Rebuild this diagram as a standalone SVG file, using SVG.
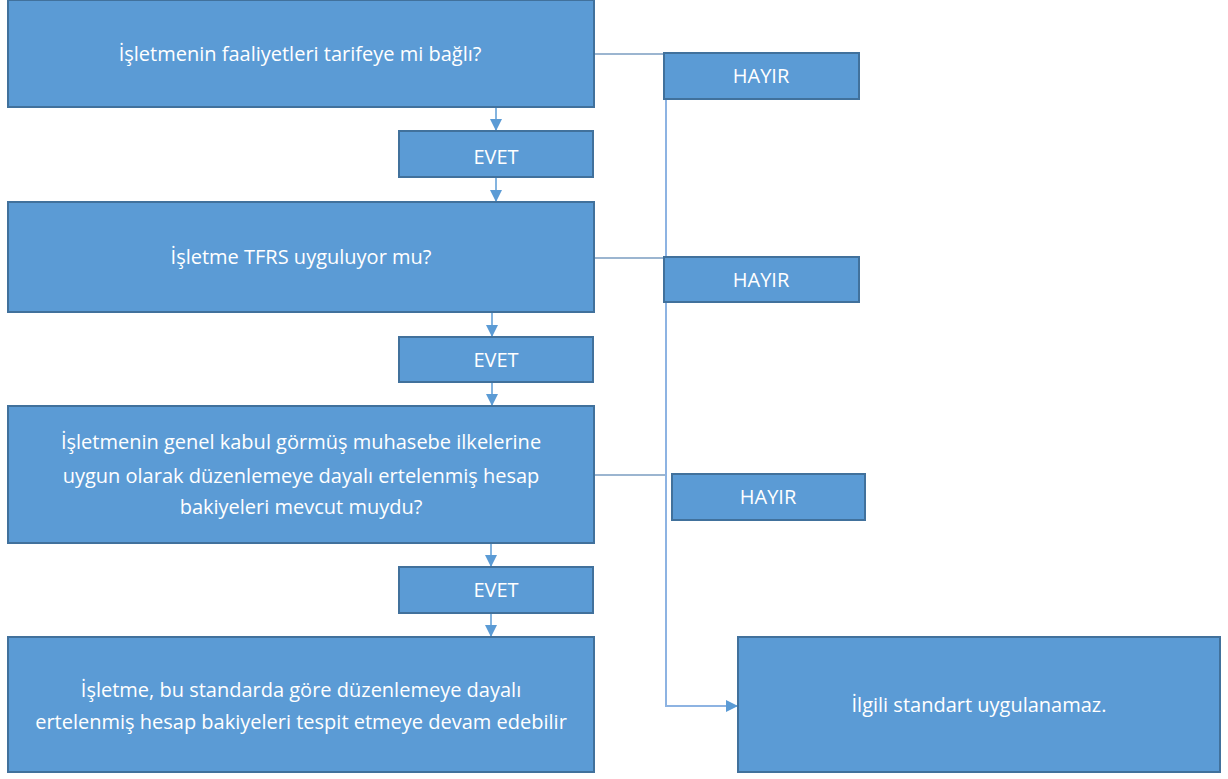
<svg xmlns="http://www.w3.org/2000/svg" width="1228" height="779" viewBox="0 0 1228 779">
<style>
.box{fill:#5b9bd5;stroke:#41719c;stroke-width:2}
.t{fill:#fff;font-family:"Open Sans","Liberation Sans",Arial,sans-serif;font-size:20px;text-anchor:middle}
.c{fill:none;stroke:#5b9bd5;stroke-width:1.5}
.h{fill:none;stroke:#7a9cc0;stroke-width:1.5}
.v{fill:none;stroke:#8db3e2;stroke-width:2}
</style>
<defs>
<marker id="ah" markerWidth="12" markerHeight="12" refX="11" refY="6" orient="auto" markerUnits="userSpaceOnUse">
<path d="M0,0 L12,6 L0,12 Z" fill="#5b9bd5"/>
</marker>
</defs>
<rect width="1228" height="779" fill="#fff"/>
<g id="connectors">
<path class="c" d="M496,107 V130" marker-end="url(#ah)"/>
<path class="c" d="M496,177 V201" marker-end="url(#ah)"/>
<path class="c" d="M492,312 V336" marker-end="url(#ah)"/>
<path class="c" d="M492,382 V405" marker-end="url(#ah)"/>
<path class="c" d="M491,543 V566" marker-end="url(#ah)"/>
<path class="c" d="M491,613 V636" marker-end="url(#ah)"/>
<path class="h" d="M594,54 H664"/>
<path class="h" d="M594,258 H664"/>
<path class="h" d="M594,475 H666"/>
<path class="v" d="M666,99 V257"/>
<path class="v" d="M666,302 V706 H737" marker-end="url(#ah)"/>
</g>
<g id="n1"><rect class="box" x="8" y="0" width="586" height="107"/><text class="t" x="300" y="61">İşletmenin faaliyetleri tarifeye mi bağlı?</text></g>
<g id="e1"><rect class="box" x="399" y="131" width="194" height="46"/><text class="t" x="496" y="164">EVET</text></g>
<g id="n2"><rect class="box" x="8" y="202" width="586" height="110"/><text class="t" x="301" y="264">İşletme TFRS uyguluyor mu?</text></g>
<g id="e2"><rect class="box" x="399" y="337" width="194" height="45"/><text class="t" x="496" y="367">EVET</text></g>
<g id="n3"><rect class="box" x="8" y="406" width="586" height="137"/>
<text class="t" x="301" y="449">İşletmenin genel kabul görmüş muhasebe ilkelerine</text>
<text class="t" x="301" y="483">uygun olarak düzenlemeye dayalı ertelenmiş hesap</text>
<text class="t" x="301" y="514">bakiyeleri mevcut muydu?</text></g>
<g id="e3"><rect class="box" x="399" y="567" width="194" height="46"/><text class="t" x="496" y="597">EVET</text></g>
<g id="n4"><rect class="box" x="8" y="637" width="586" height="135"/>
<text class="t" x="301" y="697">İşletme, bu standarda göre düzenlemeye dayalı</text>
<text class="t" x="301" y="729">ertelenmiş hesap bakiyeleri tespit etmeye devam edebilir</text></g>
<g id="h1"><rect class="box" x="664" y="53" width="195" height="46"/><text class="t" x="761" y="83">HAYIR</text></g>
<g id="h2"><rect class="box" x="664" y="257" width="195" height="45"/><text class="t" x="761" y="287">HAYIR</text></g>
<g id="h3"><rect class="box" x="672" y="474" width="193" height="46"/><text class="t" x="768" y="504">HAYIR</text></g>
<g id="n5"><rect class="box" x="738" y="637" width="482" height="135"/><text class="t" x="979" y="712">İlgili standart uygulanamaz.</text></g>
</svg>
